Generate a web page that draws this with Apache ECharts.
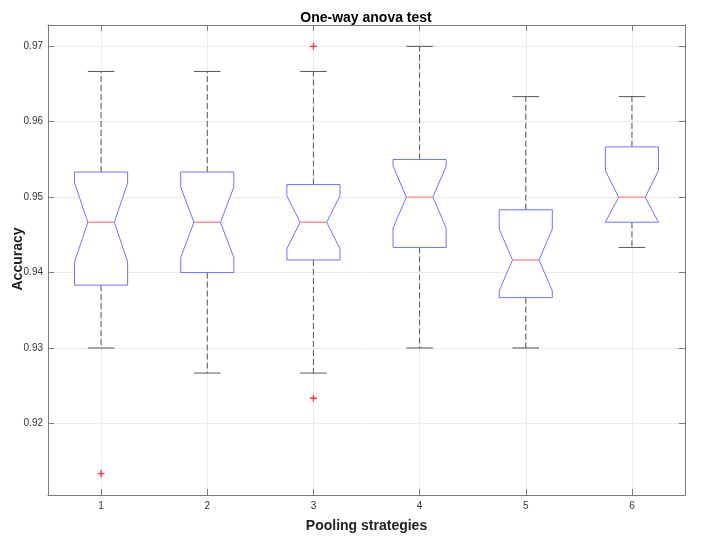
<!DOCTYPE html>
<html>
<head>
<meta charset="utf-8">
<script src="https://cdn.jsdelivr.net/npm/echarts@6/dist/echarts.min.js"></script>
<style>
  html, body { margin: 0; padding: 0; background: #fff; }
  #chart { width: 703px; height: 537px; }
</style>
</head>
<body>
<div id="chart"></div>
<script>
// pooling strategies 1..6
var strategies = [1, 2, 3, 4, 5, 6];
var lowerWhisker = [0.93, 0.92667, 0.92667, 0.93, 0.93, 0.94333];
var q1 = [0.93833, 0.94, 0.94167, 0.94333, 0.93667, 0.94667];
var notchLow = [0.9414, 0.942, 0.94317, 0.9459, 0.93757, 0.94667];
var median = [0.94667, 0.94667, 0.94667, 0.95, 0.94167, 0.95];
var notchHigh = [0.9519, 0.95133, 0.95017, 0.9541, 0.94577, 0.95351];
var q3 = [0.95333, 0.95333, 0.95167, 0.955, 0.94833, 0.95667];
var upperWhisker = [0.96667, 0.96667, 0.96667, 0.97, 0.96333, 0.96333];
// outliers
var outlierX = [1, 3, 3];
var outlierY = [0.91333, 0.97, 0.92333];

var yMin = 0.9105, yMax = 0.97283;
var font = 'Liberation Sans, Arial, Helvetica, sans-serif';
var axisColor = '#7a7a7a';

var boxData = strategies.map(function (s, i) {
  return [s, lowerWhisker[i], q1[i], notchLow[i], median[i], notchHigh[i], q3[i], upperWhisker[i]];
});
var outlierData = outlierX.map(function (x, i) { return [x, outlierY[i]]; });

function renderBox(params, api) {
  var x = api.value(0);
  var hw = api.size([0.25, 0])[0];
  var cap = hw / 2;
  var c = function (y) { return api.coord([x, api.value(y)]); };
  var pLo = c(1), pQ1 = c(2), pNl = c(3), pMed = c(4), pNh = c(5), pQ3 = c(6), pHi = c(7);
  var cx = pMed[0];
  var whisk = { stroke: '#555', lineWidth: 1, lineDash: [6, 3] };
  var solid = { stroke: '#555', lineWidth: 1 };
  return {
    type: 'group',
    children: [
      { type: 'line', shape: { x1: cx, y1: pQ3[1], x2: cx, y2: pHi[1] }, style: whisk },
      { type: 'line', shape: { x1: cx, y1: pQ1[1], x2: cx, y2: pLo[1] }, style: whisk },
      { type: 'line', shape: { x1: cx - cap, y1: pHi[1], x2: cx + cap, y2: pHi[1] }, style: solid },
      { type: 'line', shape: { x1: cx - cap, y1: pLo[1], x2: cx + cap, y2: pLo[1] }, style: solid },
      {
        type: 'polygon',
        shape: {
          points: [
            [cx - hw, pQ1[1]], [cx - hw, pNl[1]], [cx - cap, pMed[1]], [cx - hw, pNh[1]],
            [cx - hw, pQ3[1]], [cx + hw, pQ3[1]], [cx + hw, pNh[1]], [cx + cap, pMed[1]],
            [cx + hw, pNl[1]], [cx + hw, pQ1[1]]
          ]
        },
        style: { fill: 'rgba(255,255,255,1)', stroke: '#7070ff', lineWidth: 1 }
      },
      { type: 'line', shape: { x1: cx - cap, y1: pMed[1], x2: cx + cap, y2: pMed[1] }, style: { stroke: '#ff6060', lineWidth: 1 } }
    ]
  };
}

var chart = echarts.init(document.getElementById('chart'));

var baseX = {
  type: 'value', min: 0.5, max: 6.5,
  axisLine: { show: true, lineStyle: { color: axisColor } },
  axisTick: { show: true, inside: true, length: 6, lineStyle: { color: axisColor } },
  splitLine: { show: false }
};
var baseY = {
  type: 'value', min: yMin, max: yMax,
  axisLine: { show: true, lineStyle: { color: axisColor } },
  axisTick: { show: true, inside: true, length: 6, lineStyle: { color: axisColor } },
  splitLine: { show: false }
};

chart.setOption({
  animation: false,
  backgroundColor: '#fff',
  title: {
    text: 'One-way anova test',
    left: 361, top: 6, textAlign: 'center',
    textStyle: { fontFamily: font, fontSize: 14, fontWeight: 'bold', color: '#000' }
  },
  // y axis name placed by hand
  graphic: [{
    type: 'text',
    x: 18, y: 259, rotation: Math.PI / 2,
    style: {
      text: 'Accuracy', fontFamily: font, fontSize: 14, fontWeight: 'bold', fill: '#222',
      align: 'center', verticalAlign: 'middle'
    }
  }],
  grid: { left: 48, right: 18, top: 25, bottom: 42, containLabel: false, outerBoundsMode: 'none' },
  xAxis: [
    Object.assign({}, baseX, {
      position: 'bottom',
      name: 'Pooling strategies', nameLocation: 'middle', nameGap: 24,
      nameTextStyle: { fontFamily: font, fontSize: 14, fontWeight: 'bold', color: '#222' },
      axisLabel: {
        margin: 6, fontFamily: font, fontSize: 10, color: '#333',
        showMinLabel: false, showMaxLabel: false,
        formatter: function (v) { return Math.abs(v - Math.round(v)) < 1e-6 ? String(Math.round(v)) : ''; }
      },
      splitLine: { show: true, lineStyle: { color: '#ebebeb' } }
    }),
    Object.assign({}, baseX, { position: 'top', axisLabel: { show: false } })
  ],
  yAxis: [
    Object.assign({}, baseY, {
      position: 'left',
      axisLabel: {
        margin: 5, fontFamily: font, fontSize: 10, color: '#333',
        showMinLabel: false, showMaxLabel: false,
        formatter: function (v) { return v.toFixed(2); }
      },
      splitLine: { show: true, lineStyle: { color: '#ebebeb' } }
    }),
    Object.assign({}, baseY, { position: 'right', axisLabel: { show: false } })
  ],
  series: [
    {
      type: 'custom',
      renderItem: renderBox,
      encode: { x: 0, y: [1, 2, 3, 4, 5, 6, 7] },
      data: boxData,
      z: 3
    },
    {
      type: 'scatter',
      symbol: 'path://M4,0h2v4h4v2h-4v4h-2v-4h-4v-2h4z',
      symbolSize: 7,
      itemStyle: { color: '#ff0000' },
      data: outlierData,
      z: 4
    }
  ]
});
</script>
</body>
</html>
